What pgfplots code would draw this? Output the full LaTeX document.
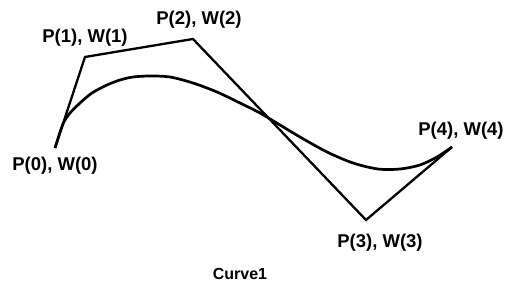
\documentclass[border=0pt]{standalone}
\usepackage{pgfplots}
\pgfplotsset{compat=1.18}
\usepackage{fontspec}
\setmainfont{Liberation Sans}
\begin{document}
\begin{tikzpicture}
\begin{axis}[
  width=507pt, height=286pt, scale only axis,
  xmin=0, xmax=507, ymin=0, ymax=286, y dir=reverse,
  axis lines=none, clip=false,
]
\path (rel axis cs:0,0) rectangle (rel axis cs:1,1);
% control polygon
\addplot[black, line width=2.3pt, line join=miter] coordinates {
  (55,148) (85,57) (193,39) (366,220) (452,147)
};
% curve
\addplot[black, line width=2.7pt, smooth, tension=0.5] coordinates {
  (55,148) (63,124) (70,113) (80,103) (92,93) (107,85) (120,80) (133,77)
  (150,76) (170,77) (193,83) (217,92) (240,103) (260,113) (280,125)
  (300,137) (327,152) (353,163) (378,169) (400,169) (420,165) (437,157) (452,147)
};
\tikzset{lab/.style={font=\bfseries\fontsize{18.5}{20}\selectfont}}
\node[lab] at (axis cs:55,166) {P(0), W(0)};
\node[lab] at (axis cs:85,37.5) {P(1), W(1)};
\node[lab] at (axis cs:199,19.5) {P(2), W(2)};
\node[lab] at (axis cs:380,242.5) {P(3), W(3)};
\node[lab] at (axis cs:461,131) {P(4), W(4)};
\node[font=\bfseries\fontsize{16}{18}\selectfont] at (axis cs:240,274) {Curve1};
\end{axis}
\end{tikzpicture}
\end{document}
